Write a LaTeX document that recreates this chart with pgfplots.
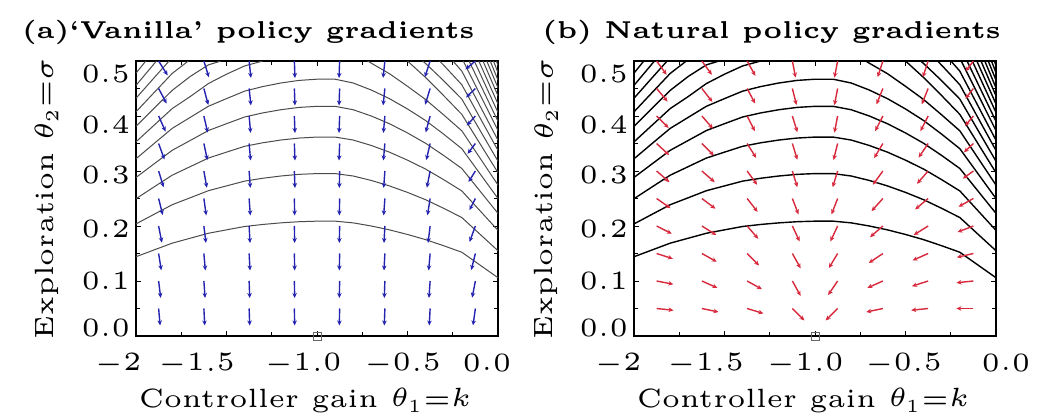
\documentclass[border=0pt]{standalone}
\usepackage{graphicx}
\usepackage{pgfplots}
\usepackage{pgfplotstable}
\pgfplotsset{compat=1.18}
\usetikzlibrary{arrows.meta}
\definecolor{vblue}{RGB}{35,35,175}
\definecolor{nred}{RGB}{215,40,60}
\definecolor{cgray}{RGB}{75,75,75}
\newcommand\T[1]{\scalebox{5.3}{\fontsize{5}{6}\selectfont #1}}
\newcommand\TT[1]{\scalebox{4.9}{\fontsize{5}{6}\selectfont #1}}
% x tick label shifted horizontally by half of #1
\newcommand\XL[2]{\makebox[0pt]{\hspace*{#1}\T{#2}}}
% y tick label raised by #1
\newcommand\YL[2]{\raisebox{#1}[\height][\depth]{\T{#2}}}

\pgfplotstableread{
x y u v
-1.875 0.05 0.0082 -0.0308
-1.875 0.10 0.0114 -0.0307
-1.875 0.15 0.0147 -0.0305
-1.875 0.20 0.0179 -0.0303
-1.875 0.25 0.0227 -0.0300
-1.875 0.30 0.0275 -0.0295
-1.875 0.35 0.0321 -0.0290
-1.875 0.40 0.0382 -0.0282
-1.875 0.45 0.0441 -0.0273
-1.875 0.50 0.0498 -0.0262
-1.625 0.05 0.0049 -0.0309
-1.625 0.10 0.0066 -0.0308
-1.625 0.15 0.0082 -0.0308
-1.625 0.20 0.0114 -0.0307
-1.625 0.25 0.0131 -0.0306
-1.625 0.30 0.0163 -0.0304
-1.625 0.35 0.0195 -0.0302
-1.625 0.40 0.0211 -0.0301
-1.625 0.45 0.0243 -0.0298
-1.625 0.50 0.0275 -0.0295
-1.375 0.05 0.0033 -0.0309
-1.375 0.10 0.0033 -0.0309
-1.375 0.15 0.0049 -0.0309
-1.375 0.20 0.0049 -0.0309
-1.375 0.25 0.0066 -0.0308
-1.375 0.30 0.0066 -0.0308
-1.375 0.35 0.0082 -0.0308
-1.375 0.40 0.0082 -0.0308
-1.375 0.45 0.0098 -0.0307
-1.375 0.50 0.0098 -0.0307
-1.125 0.05 0.0016 -0.0309
-1.125 0.10 0.0016 -0.0309
-1.125 0.15 0.0016 -0.0309
-1.125 0.20 0.0016 -0.0309
-1.125 0.25 0.0016 -0.0309
-1.125 0.30 0.0033 -0.0309
-1.125 0.35 0.0033 -0.0309
-1.125 0.40 0.0033 -0.0309
-1.125 0.45 0.0033 -0.0309
-1.125 0.50 0.0033 -0.0309
-0.875 0.05 -0.0016 -0.0309
-0.875 0.10 -0.0016 -0.0309
-0.875 0.15 -0.0016 -0.0309
-0.875 0.20 -0.0016 -0.0309
-0.875 0.25 -0.0016 -0.0309
-0.875 0.30 -0.0016 -0.0309
-0.875 0.35 -0.0033 -0.0309
-0.875 0.40 -0.0033 -0.0309
-0.875 0.45 -0.0033 -0.0309
-0.875 0.50 -0.0033 -0.0309
-0.625 0.05 -0.0033 -0.0309
-0.625 0.10 -0.0033 -0.0309
-0.625 0.15 -0.0049 -0.0309
-0.625 0.20 -0.0049 -0.0309
-0.625 0.25 -0.0066 -0.0308
-0.625 0.30 -0.0066 -0.0308
-0.625 0.35 -0.0082 -0.0308
-0.625 0.40 -0.0082 -0.0308
-0.625 0.45 -0.0098 -0.0307
-0.625 0.50 -0.0098 -0.0307
-0.375 0.05 -0.0049 -0.0309
-0.375 0.10 -0.0066 -0.0308
-0.375 0.15 -0.0082 -0.0308
-0.375 0.20 -0.0114 -0.0307
-0.375 0.25 -0.0147 -0.0305
-0.375 0.30 -0.0179 -0.0303
-0.375 0.35 -0.0211 -0.0301
-0.375 0.40 -0.0243 -0.0298
-0.375 0.45 -0.0275 -0.0295
-0.375 0.50 -0.0290 -0.0294
-0.125 0.05 -0.0131 -0.0306
-0.125 0.10 -0.0179 -0.0303
-0.125 0.15 -0.0227 -0.0300
-0.125 0.20 -0.0321 -0.0290
-0.125 0.25 -0.0326 -0.0210
-0.125 0.30 -0.0380 -0.0200
-0.125 0.35 -0.0432 -0.0188
-0.125 0.40 -0.0480 -0.0175
-0.125 0.45 -0.0516 -0.0164
-0.125 0.50 -0.0550 -0.0152
}\vanilla

\pgfplotstableread{
x y u v
-1.875 0.05 0.0934 -0.0032
-1.875 0.10 0.0922 -0.0059
-1.875 0.15 0.0893 -0.0095
-1.875 0.20 0.0837 -0.0140
-1.875 0.25 0.0769 -0.0177
-1.875 0.30 0.0709 -0.0203
-1.875 0.35 0.0687 -0.0211
-1.875 0.40 0.0664 -0.0218
-1.875 0.45 0.0604 -0.0237
-1.875 0.50 0.0552 -0.0250
-1.625 0.05 0.0918 -0.0064
-1.625 0.10 0.0858 -0.0126
-1.625 0.15 0.0821 -0.0150
-1.625 0.20 0.0796 -0.0164
-1.625 0.25 0.0750 -0.0186
-1.625 0.30 0.0709 -0.0203
-1.625 0.35 0.0664 -0.0218
-1.625 0.40 0.0616 -0.0233
-1.625 0.45 0.0578 -0.0243
-1.625 0.50 0.0552 -0.0250
-1.375 0.05 0.0898 -0.0090
-1.375 0.10 0.0821 -0.0150
-1.375 0.15 0.0664 -0.0218
-1.375 0.20 0.0616 -0.0233
-1.375 0.25 0.0578 -0.0243
-1.375 0.30 0.0552 -0.0250
-1.375 0.35 0.0498 -0.0262
-1.375 0.40 0.0426 -0.0275
-1.375 0.45 0.0441 -0.0273
-1.375 0.50 0.0455 -0.0270
-1.125 0.05 0.0664 -0.0218
-1.125 0.10 0.0455 -0.0270
-1.125 0.15 0.0455 -0.0270
-1.125 0.20 0.0397 -0.0280
-1.125 0.25 0.0337 -0.0288
-1.125 0.30 0.0275 -0.0295
-1.125 0.35 0.0275 -0.0295
-1.125 0.40 0.0275 -0.0295
-1.125 0.45 0.0227 -0.0300
-1.125 0.50 0.0179 -0.0303
-0.875 0.05 -0.0664 -0.0218
-0.875 0.10 -0.0525 -0.0256
-0.875 0.15 -0.0484 -0.0265
-0.875 0.20 -0.0397 -0.0280
-0.875 0.25 -0.0337 -0.0288
-0.875 0.30 -0.0275 -0.0295
-0.875 0.35 -0.0227 -0.0300
-0.875 0.40 -0.0179 -0.0303
-0.875 0.45 -0.0179 -0.0303
-0.875 0.50 -0.0179 -0.0303
-0.625 0.05 -0.0918 -0.0064
-0.625 0.10 -0.0858 -0.0126
-0.625 0.15 -0.0778 -0.0173
-0.625 0.20 -0.0709 -0.0203
-0.625 0.25 -0.0628 -0.0230
-0.625 0.30 -0.0552 -0.0250
-0.625 0.35 -0.0484 -0.0265
-0.625 0.40 -0.0426 -0.0275
-0.625 0.45 -0.0352 -0.0287
-0.625 0.50 -0.0290 -0.0294
-0.375 0.05 -0.0934 -0.0032
-0.375 0.10 -0.0893 -0.0095
-0.375 0.15 -0.0858 -0.0126
-0.375 0.20 -0.0796 -0.0164
-0.375 0.25 -0.0719 -0.0199
-0.375 0.30 -0.0616 -0.0233
-0.375 0.35 -0.0525 -0.0256
-0.375 0.40 -0.0426 -0.0275
-0.375 0.45 -0.0352 -0.0287
-0.375 0.50 -0.0290 -0.0294
-0.125 0.05 -0.0939 0.0000
-0.125 0.10 -0.0934 -0.0032
-0.125 0.15 -0.0915 -0.0070
-0.125 0.20 -0.0877 -0.0111
-0.125 0.25 -0.0821 -0.0150
-0.125 0.30 -0.0581 -0.0139
-0.125 0.35 -0.0525 -0.0161
-0.125 0.40 -0.0462 -0.0181
-0.125 0.45 -0.0442 -0.0186
-0.125 0.50 -0.0432 -0.0188
}\natural

\newcommand\contours[1]{%
\addplot[#1] coordinates {(-2,0.1441) (-1.9,0.1565) (-1.8,0.1688) (-1.7,0.1778) (-1.6,0.1868) (-1.5,0.1930) (-1.4,0.1991) (-1.3,0.2028) (-1.2,0.2057) (-1.1,0.2078) (-1,0.2088) (-0.9,0.2088) (-0.8,0.2057) (-0.7,0.2000) (-0.6,0.1930) (-0.5,0.1846) (-0.4,0.1752) (-0.3,0.1641) (-0.2,0.1523) (0,0.1059)};
\addplot[#1] coordinates {(-2,0.2038) (-1.9,0.2213) (-1.8,0.2387) (-1.7,0.2514) (-1.6,0.2642) (-1.5,0.2729) (-1.4,0.2816) (-1.3,0.2868) (-1.2,0.2909) (-1.1,0.2939) (-1,0.2953) (-0.9,0.2953) (-0.8,0.2909) (-0.7,0.2828) (-0.6,0.2729) (-0.5,0.2611) (-0.4,0.2478) (-0.3,0.2321) (-0.2,0.2154) (0,0.1550)};
\addplot[#1] coordinates {(-2,0.2496) (-1.9,0.2711) (-1.8,0.2924) (-1.7,0.3080) (-1.6,0.3236) (-1.5,0.3343) (-1.4,0.3449) (-1.3,0.3513) (-1.2,0.3563) (-1.1,0.3599) (-1,0.3617) (-0.9,0.3617) (-0.8,0.3563) (-0.7,0.3464) (-0.6,0.3343) (-0.5,0.3197) (-0.4,0.3035) (-0.3,0.2842) (-0.2,0.2638) (0,0.1920)};
\addplot[#1] coordinates {(-2,0.2882) (-1.9,0.3130) (-1.8,0.3376) (-1.7,0.3556) (-1.6,0.3736) (-1.5,0.3860) (-1.4,0.3982) (-1.3,0.4056) (-1.2,0.4114) (-1.1,0.4156) (-1,0.4176) (-0.9,0.4176) (-0.8,0.4114) (-0.7,0.4000) (-0.6,0.3860) (-0.5,0.3692) (-0.4,0.3504) (-0.3,0.3282) (-0.2,0.3046) (0,0.2229)};
\addplot[#1] coordinates {(-2,0.3222) (-1.9,0.3500) (-1.8,0.3775) (-1.7,0.3976) (-1.6,0.4177) (-1.5,0.4316) (-1.4,0.4452) (-1.3,0.4535) (-1.2,0.4600) (-1.1,0.4647) (-1,0.4669) (-0.9,0.4669) (-0.8,0.4600) (-0.7,0.4472) (-0.6,0.4316) (-0.5,0.4128) (-0.4,0.3918) (-0.3,0.3669) (-0.2,0.3406) (0,0.2500)};
\addplot[#1] coordinates {(-2,0.3530) (-1.9,0.3833) (-1.8,0.4135) (-1.7,0.4355) (-1.6,0.4590) (-1.5,0.4760) (-1.4,0.4910) (-1.3,0.5)};
\addplot[#1] coordinates {(-0.72,0.5) (-0.7,0.4960) (-0.6,0.4770) (-0.5,0.4540) (-0.4,0.4300) (-0.3,0.4020) (-0.2,0.3731) (0,0.2745)};
\addplot[#1] coordinates {(-2,0.3813) (-1.9,0.4141) (-1.8,0.4466) (-1.7,0.4720) (-1.6,0.4930) (-1.53,0.5)};
\addplot[#1] coordinates {(-0.50,0.5) (-0.4,0.4700) (-0.3,0.4370) (-0.2,0.4030) (0,0.2969)};
\addplot[#1] coordinates {(-2,0.4076) (-1.9,0.4426) (-1.8,0.4774) (-1.711,0.5)};
\addplot[#1] coordinates {(-0.417,0.5) (-0.4,0.4955) (-0.3,0.4641) (-0.2,0.4308) (0,0.3178)};
\addplot[#1] coordinates {(-2,0.4323) (-1.9,0.4695) (-1.817,0.5)};
\addplot[#1] coordinates {(-0.323,0.5) (-0.3,0.4923) (-0.2,0.4569) (0,0.3373)};
\addplot[#1] coordinates {(-2,0.4557) (-1.9,0.4949) (-1.887,0.5)};
\addplot[#1] coordinates {(-0.249,0.5) (-0.2,0.4816) (0,0.3558)};
\addplot[#1] coordinates {(-2,0.4779) (-1.946,0.5)};
\addplot[#1] coordinates {(-0.192,0.5) (0,0.3734)};
\addplot[#1] coordinates {(-0.160,0.5) (0,0.3902)};
\addplot[#1] coordinates {(-0.131,0.5) (0,0.4063)};
\addplot[#1] coordinates {(-0.106,0.5) (0,0.4218)};
\addplot[#1] coordinates {(-0.083,0.5) (0,0.4367)};
\addplot[#1] coordinates {(-0.062,0.5) (0,0.4512)};
\addplot[#1] coordinates {(-0.043,0.5) (0,0.4652)};
\addplot[#1] coordinates {(-0.025,0.5) (0,0.4788)};
\addplot[#1] coordinates {(-0.009,0.5) (0,0.4920)};
}

\pgfplotsset{
  panel/.style={
    anchor=south west,
    scale only axis, width=362bp, height=275bp,
    xmin=-2, xmax=0, ymin=0, ymax=0.5,
    clip mode=individual,
    xtick={-2,-1.5,-1,-0.5,0},
    minor xtick={-1.75,-1.25,-0.75,-0.25},
    ytick={0,0.1,0.2,0.3,0.4,0.5},
    minor ytick={0.05,0.15,0.25,0.35,0.45},
    yticklabels={\YL{8bp}{$0.0$},\YL{0bp}{$0.1$},\YL{-3bp}{$0.2$},\YL{-3.5bp}{$0.3$},\YL{-9bp}{$0.4$},\YL{-13bp}{$0.5$}},
    tick align=inside, major tick length=5bp, minor tick length=4bp,
    tick style={black, line width=0.8bp},
    axis line style={black, line width=1.3bp},
    xticklabel style={anchor=base, inner sep=0pt, yshift=-35bp},
    yticklabel style={anchor=east, inner sep=0pt, xshift=-6bp},
    xlabel style={at={(axis description cs:0.467,0)}, anchor=base, inner sep=0pt, yshift=-71bp},
    title style={anchor=base west, inner sep=0pt, yshift=17bp},
  }
}

\begin{document}
\begin{tikzpicture}
\begin{axis}[panel, at={(136bp,83bp)},
    xticklabels={\XL{-36bp}{$-2$},\XL{-60bp}{$-1.5$},\XL{-28bp}{$-1.0$},\XL{-10bp}{$-0.5$},\XL{-22bp}{$0.0$}},
    xlabel={\T{Controller gain $\theta_{\scalebox{0.7}{$1$}}{=}k$}},
    ylabel={\T{Exploration $\theta_{\scalebox{0.7}{$2$}}{=}\sigma$}},
    ylabel style={at={(axis description cs:-0.229,0.5)}, anchor=base, inner sep=0pt},
    title={\TT{\bfseries (a)`Vanilla' policy gradients}},
    title style={at={(axis description cs:-0.315,1)}}]
\contours{cgray, line width=1.0bp}
\addplot[vblue, line width=1.4bp, quiver={u=\thisrow{u}, v=\thisrow{v}}, -{Stealth[length=5bp,width=4.5bp]}] table[x=x,y=y] {\vanilla};
\addplot[only marks, mark=square, mark size=4bp, gray!80!black, line width=0.8bp] coordinates {(-1,0)};
\end{axis}
\begin{axis}[panel, at={(634bp,83bp)},
    xticklabels={\XL{-32bp}{$-2$},\XL{-38bp}{$-1.5$},\XL{-20bp}{$-1.0$},\XL{-4bp}{$-0.5$},\XL{20bp}{$0.0$}},
    xlabel={\T{Controller gain $\theta_{\scalebox{0.7}{$1$}}{=}k$}},
    ylabel={\T{Exploration $\theta_{\scalebox{0.7}{$2$}}{=}\sigma$}},
    ylabel style={at={(axis description cs:-0.224,0.5)}, anchor=base, inner sep=0pt},
    title={\TT{\bfseries (b) Natural policy gradients}},
    title style={at={(axis description cs:-0.254,1)}}]
\contours{black, line width=1.4bp}
\addplot[nred, line width=1.4bp, quiver={u=\thisrow{u}, v=\thisrow{v}}, -{Stealth[length=5bp,width=4.5bp]}] table[x=x,y=y] {\natural};
\addplot[only marks, mark=square, mark size=4bp, gray!80!black, line width=0.8bp] coordinates {(-1,0)};
\end{axis}
\pgfresetboundingbox
\path (0,0) rectangle (1041bp,419bp);
\end{tikzpicture}
\end{document}
